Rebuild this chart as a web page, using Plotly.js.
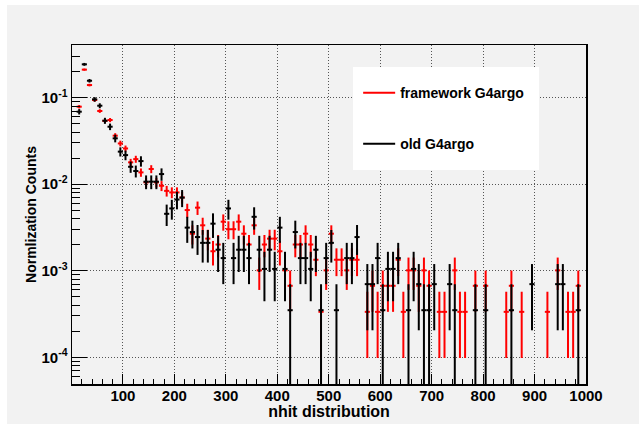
<!DOCTYPE html>
<html><head><meta charset="utf-8">
<script src="https://cdn.plot.ly/plotly-3.0.1.min.js"></script>
<style>
html,body{margin:0;padding:0;background:#fff;}
#wrap{position:relative;width:639px;height:424px;background:#fff;overflow:hidden;}
#chart{position:absolute;left:7px;top:5px;width:632px;height:419px;}
</style></head><body>
<div id="wrap"><div id="chart"></div></div>
<script>
// framework G4argo (red)
const frameworkX = [15,25,35,45,55,65,75,85,95,105,115,125,135,145,155,165,175,185,195,205,215,225,235,245,255,265,275,285,295,305,315,325,335,345,355,365,375,385,395,405,415,425,435,445,455,465,475,485,495,505,515,525,535,545,555,575,585,595,605,615,625,635,645,655,665,675,685,695,715,725,745,755,765,785,805,845,855,875,925,945,965,975,985];
const frameworkY = [0.0787,0.211,0.140,0.094,0.0702,0.054,0.0552,0.0364,0.0296,0.0259,0.0179,0.0195,0.0137,0.0105,0.0150,0.0105,0.0096,0.00838,0.00804,0.00804,0.00704,0.00503,0.00268,0.00536,0.00335,0.00235,0.00168,0.00201,0.00369,0.00302,0.00302,0.00369,0.00268,0.00201,0.00335,0.00101,0.00201,0.00235,0.00235,0.00168,0.00101,0.00067,0.00201,0.00201,0.00268,0.00201,0.00134,0.000335,0.00101,0.00268,0.00134,0.00134,0.00101,0.00134,0.00134,0.000335,0.00067,0.000335,0.00067,0.00067,0.00067,0.00134,0.000335,0.00101,0.00101,0.00067,0.00101,0.00067,0.000335,0.000335,0.00101,0.000335,0.000335,0.00067,0.00067,0.000335,0.00067,0.000335,0.000335,0.00101,0.000335,0.000335,0.00067];
const frameworkErr = [0.00363,0.00594,0.00484,0.00397,0.00343,0.00301,0.00304,0.00247,0.00223,0.00208,0.00173,0.00181,0.00151,0.00133,0.00159,0.00133,0.00127,0.001184,0.00116,0.00116,0.001086,0.000917,0.00067,0.000948,0.000749,0.000627,0.00053,0.00058,0.000786,0.00071,0.00071,0.000786,0.00067,0.00058,0.000749,0.00041,0.00058,0.000627,0.000627,0.00053,0.00041,0.000335,0.00058,0.00058,0.00067,0.00058,0.000474,0.000237,0.00041,0.00067,0.000474,0.000474,0.00041,0.000474,0.000474,0.000237,0.000335,0.000237,0.000335,0.000335,0.000335,0.000474,0.000237,0.00041,0.00041,0.000335,0.00041,0.000335,0.000237,0.000237,0.00041,0.000237,0.000237,0.000335,0.000335,0.000237,0.000335,0.000237,0.000237,0.00041,0.000237,0.000237,0.000335];

// old G4argo (black)
const oldX = [15,25,35,45,55,65,75,85,95,105,115,125,135,145,155,165,175,185,195,205,215,225,235,245,255,265,275,285,295,305,315,325,335,345,355,365,375,385,395,405,415,425,435,445,455,465,475,485,495,505,515,535,545,555,575,585,595,605,615,625,635,655,665,675,685,695,705,735,745,785,805,855,895,945,955,985];
const oldY = [0.0689,0.243,0.157,0.0957,0.0808,0.0542,0.0462,0.0339,0.0238,0.0217,0.0159,0.0142,0.0185,0.0107,0.0107,0.0107,0.0131,0.00455,0.00525,0.00665,0.0070,0.00315,0.0028,0.00245,0.0021,0.0021,0.0035,0.00175,0.0014,0.00525,0.0014,0.00175,0.00175,0.0014,0.0042,0.00175,0.00105,0.00175,0.00105,0.00315,0.00105,0.00035,0.0028,0.0014,0.0014,0.00105,0.00175,0.00035,0.0014,0.0021,0.00035,0.0014,0.0014,0.00245,0.0007,0.0007,0.0014,0.00035,0.00105,0.00105,0.0014,0.00035,0.00105,0.0007,0.00035,0.00035,0.0007,0.0007,0.00035,0.00035,0.00035,0.00035,0.0007,0.0007,0.0007,0.00035];
const oldErr = [0.00491,0.00922,0.00741,0.00579,0.00532,0.00436,0.00402,0.00344,0.00289,0.00276,0.00236,0.00223,0.00254,0.00194,0.00194,0.00194,0.00214,0.001262,0.001356,0.001526,0.001565,0.00105,0.00099,0.000926,0.000857,0.000857,0.001107,0.000783,0.0007,0.001356,0.0007,0.000783,0.000783,0.0007,0.001212,0.000783,0.000606,0.000783,0.000606,0.00105,0.000606,0.00035,0.00099,0.0007,0.0007,0.000606,0.000783,0.00035,0.0007,0.000857,0.00035,0.0007,0.0007,0.000926,0.000495,0.000495,0.0007,0.00035,0.000606,0.000606,0.0007,0.00035,0.000606,0.000495,0.00035,0.00035,0.000495,0.000495,0.00035,0.00035,0.00035,0.00035,0.000495,0.000495,0.000495,0.00035];

const binHalfWidth = 5;
const yTickVals = [1e-4, 1e-3, 1e-2, 1e-1];
const yTickText = ['10<sup>-4</sup>', '10<sup>-3</sup>', '10<sup>-2</sup>', '10<sup>-1</sup>'];
const seriesNames = ['framework G4argo', 'old G4argo'];
const seriesColors = ['#ff0000', '#000000'];

function histTrace(x, y, err, color) {
  return {
    x: x, y: y, type: 'scatter', mode: 'markers',
    marker: {size: 0, color: color, opacity: 0},
    error_y: {type: 'data', array: err, visible: true, color: color, thickness: 2, width: 0},
    error_x: {type: 'constant', value: binHalfWidth, visible: true, color: color, thickness: 2, width: 0},
    showlegend: false, hoverinfo: 'skip'
  };
}
function legendTrace(name, color, group) {
  return {x: [null], y: [null], type: 'scatter', mode: 'lines', name: name,
    line: {color: color, width: 2}, legendgroup: group};
}

const data = [
  histTrace(frameworkX, frameworkY, frameworkErr, seriesColors[0]),
  histTrace(oldX, oldY, oldErr, seriesColors[1]),
  legendTrace(seriesNames[0], seriesColors[0], 'a'),
  legendTrace(seriesNames[1], seriesColors[1], 'b')
];

const fam = 'Liberation Sans, Arial, sans-serif';
const tickFont = {family: fam, size: 15, color: '#000', weight: 'bold'};
const titleFont = {family: fam, size: 16, color: '#000', weight: 'bold'};

const layout = {
  width: 632, height: 419,
  paper_bgcolor: '#f2f2f2', plot_bgcolor: '#f2f2f2',
  margin: {l: 65, r: 53, t: 40, b: 40},
  font: tickFont,
  showlegend: true,
  xaxis: {
    range: [1, 1000], tick0: 0, dtick: 100,
    ticks: 'inside', ticklen: 10, tickwidth: 1, tickcolor: '#000',
    showline: true, linecolor: '#000', linewidth: 1.5, mirror: true,
    showgrid: true, gridcolor: '#555', griddash: '1px,2px', gridwidth: 1, zeroline: false,
    tickfont: tickFont, ticklabelstandoff: -3,
    minor: {dtick: 20, ticks: 'inside', ticklen: 5, tickcolor: '#000', showgrid: false},
    title: {text: 'nhit distribution', font: titleFont, standoff: 2}
  },
  yaxis: {
    type: 'log', range: [-4.309, -0.391],
    tickmode: 'array', tickvals: yTickVals, ticktext: yTickText,
    ticks: 'inside', ticklen: 15, tickwidth: 1, tickcolor: '#000',
    showline: true, linecolor: '#000', linewidth: 1.5, mirror: true,
    showgrid: true, gridcolor: '#555', griddash: '1px,2px', gridwidth: 1, zeroline: false,
    tickfont: tickFont,
    minor: {dtick: 'D1', ticks: 'inside', ticklen: 8, tickcolor: '#000', showgrid: false},
    title: {text: 'Normlization Counts', font: {family: fam, size: 14, color: '#000', weight: 'bold'}, standoff: 1}
  },
  legend: {
    x: 0.547, y: 0.935, xanchor: 'left', yanchor: 'top',
    bgcolor: '#ffffff', bordercolor: '#ffffff', borderwidth: 10, indentation: -8,
    entrywidth: 165, itemwidth: 35,
    font: {family: fam, size: 14, color: '#000', weight: 'bold'},
    traceorder: 'grouped', tracegroupgap: 30
  }
};

Plotly.newPlot('chart', data, layout, {staticPlot: true, displayModeBar: false});
</script>
</body></html>
